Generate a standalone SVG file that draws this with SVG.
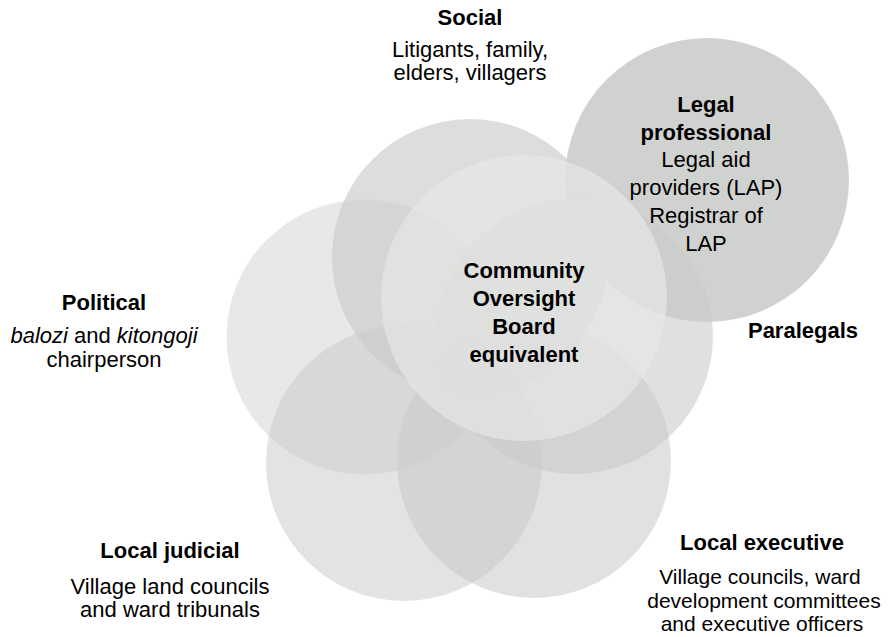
<svg xmlns="http://www.w3.org/2000/svg" width="891" height="637" viewBox="0 0 891 637">
<style>
.c{fill:#c9cbc9;stroke:none}
.ctr{fill:#e6e7e6;fill-opacity:0.7}
text{font-family:"Liberation Sans",Arial,sans-serif;font-size:22px;fill:#000;text-anchor:middle}
.b{font-weight:bold}
.i{font-style:italic}
.s{font-size:21px}
</style>
<rect width="891" height="637" fill="#fff"/>
<g id="circles">
<circle id="c-political" class="c" cx="364" cy="337" r="137.5" fill-opacity="0.44"/>
<circle id="c-social" class="c" cx="470" cy="257" r="138" fill-opacity="0.65"/>
<circle id="c-legal" class="c" cx="707" cy="180" r="142" fill-opacity="0.87"/>
<circle id="c-paralegals" class="c" cx="575" cy="336" r="138" fill-opacity="0.6"/>
<circle id="c-judicial" class="c" cx="404" cy="463" r="138" fill-opacity="0.54"/>
<circle id="c-executive" class="c" cx="534" cy="461" r="137" fill-opacity="0.57"/>
<circle id="c-center" class="ctr" cx="524" cy="298" r="143"/>
</g>
<g id="social">
<text class="b" x="470" y="25">Social</text>
<text x="470" y="57">Litigants, family,</text>
<text x="470" y="80">elders, villagers</text>
</g>
<g id="legal">
<text class="b" x="706" y="112">Legal</text>
<text class="b" x="706" y="140">professional</text>
<text x="706" y="167">Legal aid</text>
<text x="706" y="195">providers (LAP)</text>
<text x="706" y="223">Registrar of</text>
<text x="706" y="251">LAP</text>
</g>
<g id="center">
<text class="b" x="524" y="278">Community</text>
<text class="b" x="524" y="306">Oversight</text>
<text class="b" x="524" y="334">Board</text>
<text class="b" x="524" y="362">equivalent</text>
</g>
<g id="political">
<text class="b" x="104" y="310">Political</text>
<text x="104" y="343"><tspan class="i">balozi</tspan> and <tspan class="i">kitongoji</tspan></text>
<text x="104" y="367">chairperson</text>
</g>
<g id="paralegals">
<text class="b" x="803" y="338">Paralegals</text>
</g>
<g id="judicial">
<text class="b" x="170" y="558">Local judicial</text>
<text x="170" y="594">Village land councils</text>
<text x="170" y="617">and ward tribunals</text>
</g>
<g id="executive">
<text class="b" x="762" y="550">Local executive</text>
<text class="s" x="760" y="584">Village councils, ward</text>
<text class="s" x="764" y="607.5">development committees</text>
<text class="s" x="762" y="631">and executive officers</text>
</g>
</svg>
